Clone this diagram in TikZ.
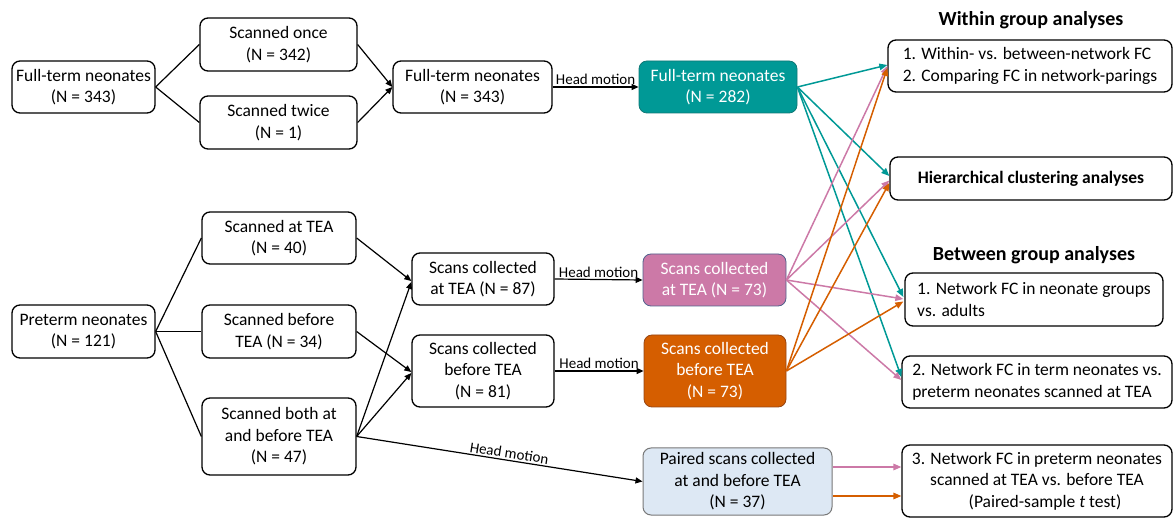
\documentclass[tikz,border=0pt]{standalone}
\usepackage{fontspec}
\setmainfont{Carlito}
\usetikzlibrary{arrows.meta,calc}
\definecolor{tealc}{RGB}{0,153,150}
\definecolor{tealb}{RGB}{16,120,118}
\definecolor{pinkc}{RGB}{204,121,167}
\definecolor{pinkb}{RGB}{80,96,140}
\definecolor{orngc}{RGB}{213,94,0}
\definecolor{orngb}{RGB}{150,70,20}
\definecolor{pairc}{RGB}{221,232,244}
\definecolor{pairb}{RGB}{120,120,120}
\newcommand\fsmain{\fontsize{17.5}{21.5}\selectfont}
\newcommand\fssmall{\fontsize{15}{18}\selectfont}
\newcommand\fstitle{\fontsize{20}{24}\selectfont\bfseries}
\tikzset{
  box/.style={draw, line width=1.3pt, rounded corners=8pt, align=center, inner sep=0pt, font=\fsmain},
  tealbox/.style={box, fill=tealc, draw=tealb, line width=0.8pt, text=white},
  pinkbox/.style={box, fill=pinkc, draw=pinkb, line width=0.8pt, text=white},
  orngbox/.style={box, fill=orngc, draw=orngb, line width=0.8pt, text=white},
  pairbox/.style={box, fill=pairc, draw=pairb, line width=1pt},
  conn/.style={line width=1.2pt},
  arr/.style={line width=1.2pt, -{Triangle[length=7pt,width=6pt]}},
  carr/.style={line width=1.5pt, -{Triangle[length=8pt,width=6.5pt]}},
  hm/.style={font=\fssmall, inner sep=1.5pt},
  titlenode/.style={font=\fstitle}
}
\begin{document}
\begin{tikzpicture}[x=1pt,y=-1pt]
\useasboundingbox (0,0) rectangle (1173,518);
% full-term branch
\node[box, minimum width=143pt, minimum height=52pt] (ft1) at (83.5,87) {Full-term neonates\\(N = 343)};
\node[box, minimum width=157pt, minimum height=53pt] (once) at (278.5,44.5) {Scanned once\\(N = 342)};
\node[box, minimum width=157pt, minimum height=53pt] (twice) at (278.5,122.5) {Scanned twice\\(N = 1)};
\node[box, minimum width=159pt, minimum height=52pt] (ft2) at (472.5,87) {Full-term neonates\\(N = 343)};
\node[tealbox, minimum width=158pt, minimum height=52pt] (ft3) at (718,87) {Full-term neonates\\(N = 282)};
% analyses
\node[titlenode] (tw) at (1031,20) {Within group analyses};
\node[box, minimum width=284pt, minimum height=52pt, align=left] (wg1) at (1030,66) {1. Within- vs. between-network FC\\2. Comparing FC in network-parings};
\node[box, minimum width=282pt, minimum height=43pt, font=\fsmain\bfseries] (hc) at (1031,178.5) {Hierarchical clustering analyses};
\node[titlenode] (tb) at (1034,255) {Between group analyses};
\node[box, minimum width=258pt, minimum height=53pt, align=left] (bg1) at (1034,299.5) {1. Network FC in neonate groups\\vs. adults};
\node[box, minimum width=270pt, minimum height=52pt, align=left] (bg2) at (1037,382) {2. Network FC in term neonates vs.\\preterm neonates scanned at TEA};
\node[box, minimum width=270pt, minimum height=72pt] (bg3) at (1037,481) {3. Network FC in preterm neonates\\scanned at TEA vs. before TEA\\\hspace*{16pt}(Paired-sample \textit{t} test)};
% preterm branch
\node[box, minimum width=143pt, minimum height=53pt] (pre) at (83.5,331.5) {Preterm neonates\\(N = 121)};
\node[box, minimum width=154pt, minimum height=52pt] (at) at (279,238) {Scanned at TEA\\(N = 40)};
\node[box, minimum width=154pt, minimum height=53pt] (bef) at (279,331.5) {Scanned before\\TEA (N = 34)};
\node[box, minimum width=154pt, minimum height=77pt] (both) at (279,436.5) {Scanned both at\\and before TEA\\(N = 47)};
\node[box, minimum width=142pt, minimum height=52pt] (sat) at (483,279) {Scans collected\\at TEA (N = 87)};
\node[box, minimum width=142pt, minimum height=72pt] (sbef) at (483,371) {Scans collected\\before TEA\\(N = 81)};
\node[pinkbox, minimum width=143pt, minimum height=52pt] (pk) at (714.5,280) {Scans collected\\at TEA (N = 73)};
\node[orngbox, minimum width=142pt, minimum height=72pt] (or) at (715,371) {Scans collected\\before TEA\\(N = 73)};
\node[pairbox, minimum width=189pt, minimum height=67pt] (pr) at (737.5,481.5) {Paired scans collected\\at and before TEA\\(N = 37)};
% black connectors
\draw[conn] (ft1.east) -- (once.west);
\draw[conn] (ft1.east) -- (twice.west);
\draw[arr] (once.east) -- (ft2.west);
\draw[arr] (twice.east) -- (ft2.west);
\draw[arr] (ft2.east) -- node[hm, above] {Head motion} (ft3.west);
\draw[conn] (pre.east) -- (at.west);
\draw[conn] (pre.east) -- (bef.west);
\draw[conn] (pre.east) -- (both.west);
\draw[arr] (at.east) -- ($(sat.west)+(0,2)$);
\draw[arr] (bef.east) -- ($(sbef.west)+(0,1)$);
\draw[arr] (both.east) -- ($(sat.west)+(0,3)$);
\draw[arr] (both.east) -- ($(sbef.west)+(0,2)$);
\draw[arr] (both.east) -- node[hm, above, sloped, pos=0.53] {Head motion} (pr.west);
\draw[arr] (sat.east) -- node[hm, above] {Head motion} (pk.west);
\draw[arr] (sbef.east) -- node[hm, above] {Head motion} (or.west);
% coloured connectors
\draw[carr, tealc] (ft3.east) -- ($(wg1.west)+(0,-1)$);
\draw[carr, tealc] (ft3.east) -- ($(hc.west)+(0,-2.5)$);
\draw[carr, tealc] (ft3.east) -- ($(bg1.west)+(-1,-2.5)$);
\draw[carr, tealc] (ft3.east) -- ($(bg2.west)+(0,-5)$);
\draw[carr, pinkc] (pk.east) -- ($(wg1.west)+(0,0)$);
\draw[carr, pinkc] (pk.east) -- ($(hc.west)+(0,2)$);
\draw[carr, pinkc] (pk.east) -- ($(bg1.west)+(-1,-0.5)$);
\draw[carr, pinkc] (pk.east) -- ($(bg2.west)+(0,-2)$);
\draw[carr, orngc] (or.east) -- ($(wg1.west)+(0,2)$);
\draw[carr, orngc] (or.east) -- ($(hc.west)+(0,4.5)$);
\draw[carr, orngc] (or.east) -- ($(bg1.west)+(-1,2)$);
\draw[carr, pinkc] ($(pr.east)+(0,-14.5)$) -- ($(bg3.west)+(0,-14)$);
\draw[carr, orngc] ($(pr.east)+(0,14.5)$) -- ($(bg3.west)+(0,15)$);
\end{tikzpicture}
\end{document}
